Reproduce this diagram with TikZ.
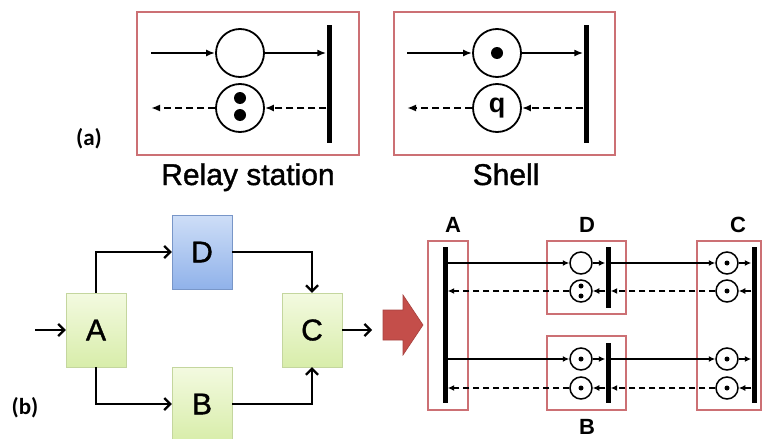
\documentclass[tikz,border=0pt]{standalone}
\usepackage{fontspec}
\setmainfont{Liberation Sans}
\newfontfamily\heavyfont[FakeBold=1.2]{Liberation Sans}
\newfontfamily\tagfont{Carlito}
\usetikzlibrary{arrows.meta}
\usepackage{xcolor}
\definecolor{framered}{RGB}{204,112,116}
\definecolor{bigred}{RGB}{196,78,74}
\definecolor{greentop}{RGB}{243,250,224}
\definecolor{greenbot}{RGB}{216,237,170}
\definecolor{greenline}{RGB}{196,214,158}
\definecolor{bluetop}{RGB}{206,222,247}
\definecolor{bluebot}{RGB}{144,178,234}
\definecolor{blueline}{RGB}{120,150,200}

\begin{document}
\begin{tikzpicture}[x=1pt,y=-1pt,
    frame/.style={draw=framered, line width=1.5pt},
    bar/.style={fill=black, inner sep=0pt, minimum width=5pt},
    token/.style={circle, draw, line width=1.8pt, minimum size=48pt, inner sep=0pt},
    smalltoken/.style={circle, draw, line width=1.5pt, minimum size=22pt, inner sep=0pt},
    block/.style={draw=greenline, top color=greentop, bottom color=greenbot,
        minimum width=60pt, minimum height=74pt, font=\heavyfont\fontsize{30}{30}\selectfont},
    flow/.style={-{Straight Barb[length=6pt,width=12pt,line width=2.2pt]}, line width=2.2pt},
    data/.style={-{Latex[length=9pt,width=7pt]}, line width=1.8pt},
    back/.style={data, dash pattern=on 7pt off 4pt},
    sdata/.style={-{Latex[length=6.5pt,width=6pt]}, line width=1.6pt},
    sback/.style={sdata, dash pattern=on 6pt off 4pt},
    caption/.style={anchor=base, font=\heavyfont\fontsize{30}{30}\selectfont},
    tag/.style={font=\tagfont\bfseries\fontsize{23}{23}\selectfont},
    letter/.style={anchor=base, inner sep=0pt, font=\bfseries\fontsize{22}{22}\selectfont}]

        \useasboundingbox (0,0) rectangle (763,439);

        % Relay station
        \draw[frame] (137,12) rectangle (359,155);
        \node[bar, minimum height=118pt] (rbar) at (329,84) {};
        \node[token] (rin) at (240,53) {};
        \node[token] (rout) at (240,108) {};
        \fill (240,98) circle (6pt);
        \fill (240,115) circle (6pt);
        \coordinate (rstart) at (151,53);
        \coordinate (rend) at (151,108);
        \draw[data] (rstart) -- (rin);
        \draw[data] (rin) -- (rin -| rbar.west);
        \draw[back] (rout -| rbar.west) -- (rout);
        \draw[back] (rout) -- (rend);

        % Shell
        \draw[frame] (394,12) rectangle (615,155);
        \node[bar, minimum height=118pt] (sbar) at (586,84) {};
        \node[token] (sin) at (497,53) {};
        \node[token, font=\bfseries\fontsize{27}{27}\selectfont] (sout) at (497,108) {q};
        \fill (sin) circle (6pt);
        \coordinate (sstart) at (407,53);
        \coordinate (send) at (407,108);
        \draw[data] (sstart) -- (sin);
        \draw[data] (sin) -- (sin -| sbar.west);
        \draw[back] (sout -| sbar.west) -- (sout);
        \draw[back] (sout) -- (send);

        \node[caption] (rname) at (248,185) {Relay station};
        \node[caption] (sname) at (506,185) {Shell};
        \node[tag] (taga) at (89,139) {(a)};
        \node[tag] (tagb) at (25,408) {(b)};

        % Blocks
        \node[block] (A) at (96,330) {A};
        \node[block, draw=blueline, top color=bluetop, bottom color=bluebot] (D) at (202,252) {D};
        \node[block] (C) at (312,330) {C};
        \node[block] (B) at (202,404) {B};
        \coordinate (in) at (35,330);
        \coordinate (out) at (372,330);
        \draw[flow] (in) -- (A);
        \draw[flow] (A.north) |- (D);
        \draw[flow] (D) -| (C);
        \draw[flow] (A.south) |- (B);
        \draw[flow] (B) -| (C);
        \draw[flow] (C) -- (out);

        % Big arrow
        \draw[fill=bigred, draw=bigred!85!black, line width=0.6pt]
            (383,310) -- (403,310) -- (403,295) -- (423,325) -- (403,355) -- (403,340) -- (383,340) -- cycle;

        % Frames and bars
        \draw[frame] (428,241) rectangle (468,410);
        \draw[frame] (547,241) rectangle (626,314);
        \draw[frame] (547,336) rectangle (626,410);
        \draw[frame] (697,241) rectangle (761,410);
        \node[bar, minimum height=156pt] (abar) at (445,325) {};
        \node[bar, minimum height=61pt] (dbar) at (608,277.5) {};
        \node[bar, minimum height=60pt] (bbar) at (608,373) {};
        \node[bar, minimum height=156pt] (cbar) at (754,325) {};

        % Tokens
        \node[smalltoken] (d1) at (581,263) {};
        \node[smalltoken] (d2) at (581,291) {};
        \node[smalltoken] (b1) at (581,359) {};
        \node[smalltoken] (b2) at (581,388) {};
        \node[smalltoken] (c1) at (727,263) {};
        \node[smalltoken] (c2) at (727,291) {};
        \node[smalltoken] (c3) at (727,359) {};
        \node[smalltoken] (c4) at (727,388) {};
        \foreach \t in {b1,b2,c1,c2,c3,c4}
            \fill (\t) circle (2.5pt);
        \fill (581,286) circle (2.5pt);
        \fill (581,296) circle (2.5pt);

        % Channels
        \foreach \m/\c/\mb in {d1/c1/dbar, b1/c3/bbar}
        {
            \draw[sdata] (\m -| abar.east) -- (\m);
            \draw[sdata] (\m) -- (\m -| \mb.west);
            \draw[sdata] (\c -| \mb.east) -- (\c);
            \draw[sdata] (\c) -- (\c -| cbar.west);
        }
        \foreach \m/\c/\mb in {d2/c2/dbar, b2/c4/bbar}
        {
            \draw[sback] (\c -| cbar.west) -- (\c);
            \draw[sback] (\c) -- (\c -| \mb.east);
            \draw[sback] (\m -| \mb.west) -- (\m);
            \draw[sback] (\m) -- (\m -| abar.east);
        }

        % Labels
        \node[letter] (la) at (453,232) {A};
        \node[letter] (ld) at (587,232) {D};
        \node[letter] (lc) at (738,232) {C};
        \node[letter] (lb) at (587,434) {B};

\end{tikzpicture}
\end{document}
